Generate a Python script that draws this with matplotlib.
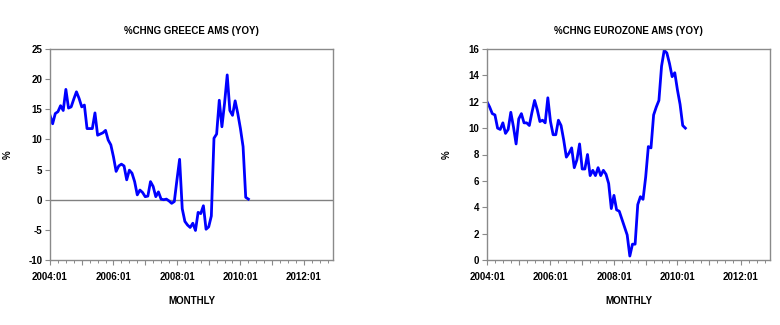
import matplotlib
matplotlib.use("Agg")
import matplotlib.pyplot as plt
from matplotlib.ticker import MultipleLocator, FuncFormatter

plt.rcParams['font.family'] = ['Liberation Sans', 'DejaVu Sans']
plt.rcParams['font.weight'] = 'bold'
plt.rcParams['axes.unicode_minus'] = False

# Monthly observations, 2004:01 .. 2010:04
start_year = 2004
greece = [14.0, 12.6, 14.3, 14.6, 15.6, 14.8, 18.3, 15.2, 15.4, 16.7,
          17.9, 16.8, 15.4, 15.7, 11.8, 11.8, 11.8, 14.4, 10.7, 10.9,
          11.1, 11.5, 9.9, 9.1, 7.1, 4.7, 5.6, 5.9, 5.6, 3.3,
          4.9, 4.4, 3.0, 0.8, 1.6, 1.2, 0.5, 0.6, 3.0, 2.2,
          0.5, 1.3, 0.1, 0.0, 0.1, -0.2, -0.6, -0.3, 3.3, 6.7,
          -1.5, -3.6, -4.2, -4.6, -3.9, -5.1, -2.1, -2.3, -1.0, -4.9,
          -4.5, -2.7, 10.2, 10.9, 16.5, 12.1, 16.0, 20.7, 14.8, 14.0,
          16.4, 14.3, 11.8, 8.8, 0.4, 0.1]
eurozone = [12.0, 11.6, 11.1, 11.0, 10.0, 9.9, 10.4, 9.6, 9.9, 11.2,
            10.1, 8.8, 10.7, 11.1, 10.4, 10.4, 10.2, 11.2, 12.1, 11.4,
            10.5, 10.6, 10.4, 12.3, 10.5, 9.5, 9.5, 10.6, 10.2, 9.1,
            7.8, 8.1, 8.5, 7.0, 7.6, 8.8, 6.9, 6.9, 8.0, 6.4,
            6.8, 6.4, 7.0, 6.4, 6.8, 6.5, 5.8, 3.9, 4.9, 3.8,
            3.7, 3.1, 2.5, 1.9, 0.3, 1.2, 1.2, 4.2, 4.8, 4.6,
            6.3, 8.6, 8.5, 11.0, 11.6, 12.1, 14.7, 15.9, 15.7, 14.9,
            13.9, 14.2, 12.9, 11.8, 10.2, 10.0]
titles = ["%CHNG GREECE AMS (YOY)", "%CHNG EUROZONE AMS (YOY)"]
xlabel = "MONTHLY"
ylabel = "%"
label_years = [2004, 2006, 2008, 2010, 2012]
greece_yticks = [-10, -5, 0, 5, 10, 15, 20, 25]
euro_yticks = [0, 2, 4, 6, 8, 10, 12, 14, 16]

months = list(range(len(greece)))
spine_col = '#8a8a8a'

fig = plt.figure(figsize=(7.8, 3.25), dpi=100)
ax1 = fig.add_axes([50/780, 65/325, 283/780, 211/325])
ax2 = fig.add_axes([487/780, 65/325, 283/780, 211/325])

def fmt_x(v, pos):
    yr = start_year + int(round(v)) // 12
    if yr in label_years:
        return f"{yr}:01"
    return ""

for ax, data, title, yt, ylx in [(ax1, greece, titles[0], greece_yticks, -0.131),
                                 (ax2, eurozone, titles[1], euro_yticks, -0.124)]:
    ax.plot(months, data, color='#0000ff', lw=2.0, solid_joinstyle='round')
    ax.set_xlim(0, 107)
    ax.set_ylim(yt[0], yt[-1])
    ax.set_yticks(yt)
    ax.xaxis.set_major_locator(MultipleLocator(12))
    ax.xaxis.set_minor_locator(MultipleLocator(3))
    ax.xaxis.set_major_formatter(FuncFormatter(fmt_x))
    ax.tick_params(axis='both', which='major', labelsize=7, length=3.5,
                   width=0.8, color=spine_col)
    ax.tick_params(axis='y', which='major', pad=2)
    ax.tick_params(axis='x', which='major', pad=5)
    ax.tick_params(axis='x', which='minor', length=2, width=0.7, color=spine_col)
    for lab in ax.get_xticklabels() + ax.get_yticklabels():
        lab.set_fontweight('bold')
    for sp in ax.spines.values():
        sp.set_color(spine_col)
        sp.set_linewidth(1.0)
    ax.set_title(title, fontsize=7, fontweight='bold', pad=11)
    ax.set_xlabel(xlabel, fontsize=7, fontweight='bold', labelpad=10)
    ax.set_ylabel(ylabel, fontsize=7, fontweight='bold')
    ax.yaxis.set_label_coords(ylx, 0.5)

ax1.axhline(0, color='#808080', lw=1.0, zorder=1)

fig.savefig("out.png", dpi=100)
